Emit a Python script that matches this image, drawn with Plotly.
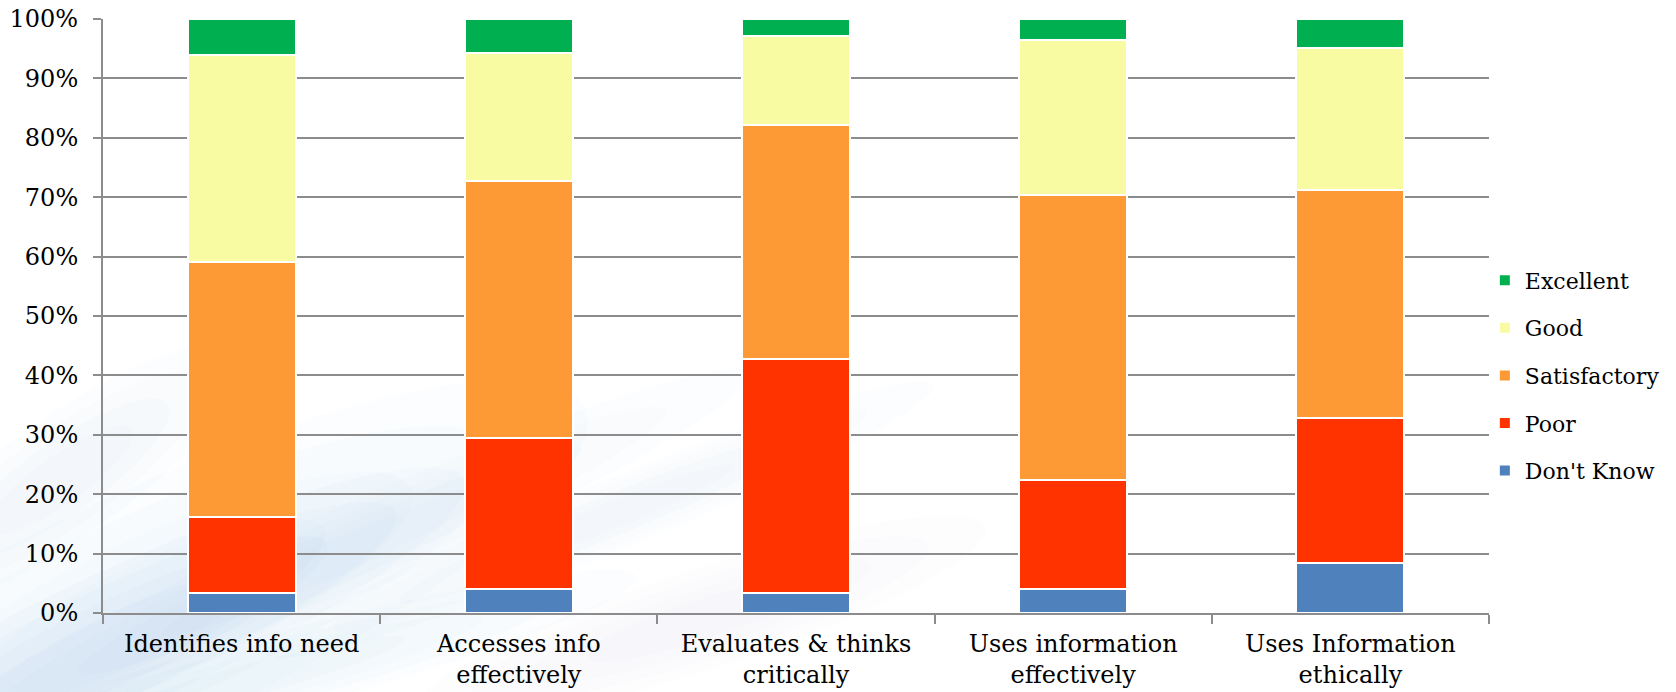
import math
import plotly.graph_objects as go

categories = ["Identifies info need", "Accesses info<br>effectively", "Evaluates & thinks<br>critically",
              "Uses information<br>effectively", "Uses Information<br>ethically"]
dont_know = [3.3, 4.0, 3.3, 4.0, 8.5]
poor = [12.8, 25.4, 39.4, 18.4, 24.3]
satisfactory = [43.0, 43.4, 39.4, 48.0, 38.4]
good = [34.8, 21.4, 15.1, 26.1, 23.9]
excellent = [6.1, 5.8, 2.8, 3.5, 4.9]

series = [
    ("Don't Know", dont_know, "#4F81BD", 5),
    ("Poor", poor, "#FF3300", 4),
    ("Satisfactory", satisfactory, "#FD9A35", 3),
    ("Good", good, "#F9FBA2", 2),
    ("Excellent", excellent, "#00B050", 1),
]

FONT = "DejaVu Serif"
W, H = 1676, 692
ML, MR, MT, MB = 103, 187, 19, 79
PW, PH = W - ML - MR, H - MT - MB

fig = go.Figure()
for name, vals, col, rank in series:
    fig.add_trace(go.Bar(
        x=categories, y=[v / 100 for v in vals], name=name,
        marker=dict(color=col, line=dict(color="white", width=2)),
        legendgroup=name, legendrank=rank,
    ))


# soft decorative background swoosh (pixel-space ellipses converted to paper coords)
def ellipse_path(cx, cy, a, b, ang_deg, n=60):
    ang = math.radians(ang_deg)
    pts = []
    for i in range(n):
        t = 2 * math.pi * i / n
        ex, ey = a * math.cos(t), b * math.sin(t)
        px = cx + ex * math.cos(ang) - ey * math.sin(ang)
        py = cy + ex * math.sin(ang) + ey * math.cos(ang)
        pts.append(((px - ML) / PW, (H - MB - py) / PH))
    return "M " + " L ".join(f"{x:.4f} {y:.4f}" for x, y in pts) + " Z"


swoosh = [
    (150, 610, 480, 120, -25, 0.07),
    (120, 640, 380, 70, -25, 0.08),
    (330, 560, 460, 45, -24, 0.06),
    (600, 520, 360, 35, -22, 0.05),
    (60, 480, 220, 60, -35, 0.05),
    (250, 680, 400, 40, -15, 0.07),
    (700, 620, 300, 50, -18, 0.04),
]
shapes = []
for cx, cy, a, b, ang, al in swoosh:
    for k, s in enumerate([1.0, 0.8, 0.6, 0.4]):
        shapes.append(dict(type="path", xref="paper", yref="paper",
                           path=ellipse_path(cx, cy, a * s, b * s, ang),
                           fillcolor=f"rgba(140,178,228,{al * 0.45:.3f})", line=dict(width=0), layer="below"))

fig.update_layout(
    barmode="stack",
    bargap=0.61,
    width=W, height=H,
    margin=dict(l=ML, r=MR, t=MT, b=MB, autoexpand=False),
    paper_bgcolor="white",
    plot_bgcolor="rgba(0,0,0,0)",
    font=dict(family=FONT, size=24, color="black"),
    legend=dict(x=0.997, xanchor="left", y=0.40, yanchor="middle",
                traceorder="grouped", tracegroupgap=16,
                font=dict(family=FONT, size=22, color="black"),
                bgcolor="rgba(0,0,0,0)"),
    xaxis=dict(showline=True, linecolor="#8c8c8c", linewidth=2,
               ticks="outside", tickson="boundaries", ticklen=9, tickcolor="#8c8c8c", tickwidth=2,
               ticklabelstandoff=8,
               tickfont=dict(family=FONT, size=24)),
    yaxis=dict(range=[0, 1], tickformat=".0%", dtick=0.1,
               showgrid=True, gridcolor="#8c8c8c", gridwidth=2,
               showline=True, linecolor="#8c8c8c", linewidth=2,
               ticks="outside", ticklen=8, tickcolor="#8c8c8c", tickwidth=2,
               ticklabelstandoff=10, zeroline=False,
               tickfont=dict(family=FONT, size=24)),
    shapes=shapes,
)

fig.write_html("out.html")
